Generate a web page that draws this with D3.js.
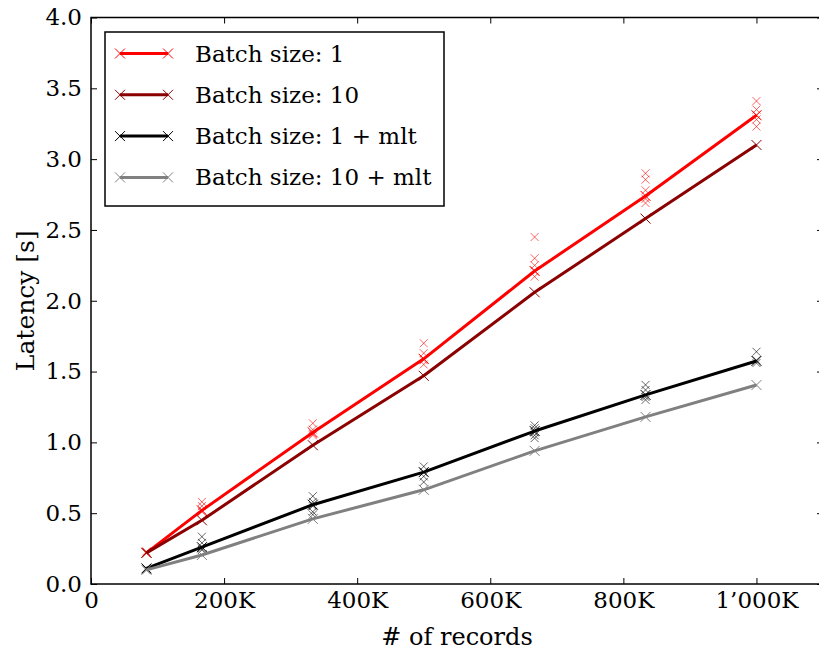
<!DOCTYPE html>
<html lang="en">
<head>
<meta charset="utf-8">
<title>Latency vs records</title>
<script src="https://d3js.org/d3.v7.min.js"></script>
<style>
  body { margin: 0; background: #fff; }
  svg text { font-family: "DejaVu Serif", serif; fill: #000; }
</style>
</head>
<body>
<div id="chart"></div>
<script>
// data
const records = [83333, 166667, 333333, 500000, 666667, 833333, 1000000];

const batch1 = [0.22, 0.52, 1.07, 1.59, 2.21, 2.74, 3.31];
const batch10 = [0.22, 0.45, 0.98, 1.47, 2.06, 2.58, 3.10];
const batch1Mlt = [0.11, 0.26, 0.56, 0.79, 1.08, 1.335, 1.575];
const batch10Mlt = [0.10, 0.205, 0.46, 0.665, 0.94, 1.18, 1.405];

// individual runs (scatter x's)
const batch1Runs = [
  [0.22, 0.23],
  [0.58, 0.55, 0.52, 0.51],
  [1.135, 1.09, 1.06, 1.05],
  [1.70, 1.63, 1.58, 1.55],
  [2.45, 2.30, 2.25, 2.21, 2.17],
  [2.90, 2.855, 2.78, 2.72, 2.69],
  [3.41, 3.35, 3.31, 3.28, 3.23]
];
const batch1MltRuns = [
  [0.11, 0.10],
  [0.334, 0.29, 0.25, 0.24],
  [0.62, 0.58, 0.55, 0.51, 0.49],
  [0.83, 0.79, 0.76, 0.72],
  [1.12, 1.10, 1.07, 1.05, 1.03],
  [1.406, 1.37, 1.32, 1.30],
  [1.64, 1.58, 1.56]
];

const xTicks = [0, 200000, 400000, 600000, 800000, 1000000];
const xTickLabels = ["0", "200K", "400K", "600K", "800K", "1\u2019000K"];
const yTicks = [0, 0.5, 1.0, 1.5, 2.0, 2.5, 3.0, 3.5, 4.0];

const series = [
  { name: "Batch size: 1", values: batch1, runs: batch1Runs, color: "#ff0000" },
  { name: "Batch size: 10", values: batch10, runs: null, color: "#8b0000" },
  { name: "Batch size: 1 + mlt", values: batch1Mlt, runs: batch1MltRuns, color: "#000000" },
  { name: "Batch size: 10 + mlt", values: batch10Mlt, runs: null, color: "#808080" }
];

const width = 819, height = 653;
const margin = { left: 91, top: 17.5, right: -4, bottom: 69 };
const plotW = width - margin.left - margin.right;
const plotH = height - margin.top - margin.bottom;

const svg = d3.select("#chart").append("svg")
  .attr("width", width)
  .attr("height", height);

const x = d3.scaleLinear().domain([0, 1100000]).range([0, plotW]);
const y = d3.scaleLinear().domain([0, 4]).range([plotH, 0]);

const g = svg.append("g").attr("transform", `translate(${margin.left},${margin.top})`);

// x marker path
function cross(s) {
  return `M${-s},${-s}L${s},${s}M${-s},${s}L${s},${-s}`;
}

// axes (ticks inside, on all four sides)
const fmtX = d => xTickLabels[xTicks.indexOf(d)];
g.append("g")
  .attr("transform", `translate(0,${plotH})`)
  .call(d3.axisBottom(x).tickValues(xTicks).tickFormat(fmtX).tickSizeInner(-6).tickSizeOuter(0).tickPadding(8))
  .call(a => a.select(".domain").remove());
g.append("g")
  .call(d3.axisTop(x).tickValues(xTicks).tickFormat("").tickSizeInner(-6).tickSizeOuter(0))
  .call(a => a.select(".domain").remove());
g.append("g")
  .call(d3.axisLeft(y).tickValues(yTicks).tickFormat(d3.format(".1f")).tickSizeInner(-6).tickSizeOuter(0).tickPadding(9))
  .call(a => a.select(".domain").remove());
g.append("g")
  .attr("transform", `translate(${plotW},0)`)
  .call(d3.axisRight(y).tickValues(yTicks).tickFormat("").tickSizeInner(-6).tickSizeOuter(0))
  .call(a => a.select(".domain").remove());

g.selectAll(".tick line").attr("stroke", "#000").attr("stroke-width", 1);
g.selectAll(".tick text").style("font-size", "23px");

// scatter of single runs
series.filter(s => s.runs).forEach(s => {
  const pts = [];
  s.runs.forEach((arr, i) => arr.forEach(v => pts.push([records[i], v])));
  g.append("g").selectAll("path")
    .data(pts)
    .join("path")
    .attr("transform", d => `translate(${x(d[0])},${y(d[1])})`)
    .attr("d", cross(4))
    .attr("fill", "none")
    .attr("stroke", s.color)
    .attr("stroke-opacity", 0.6)
    .attr("stroke-width", 1);
});

// mean lines with x markers
const line = d3.line().x((d, i) => x(records[i])).y(d => y(d));
series.forEach(s => {
  g.append("path")
    .datum(s.values)
    .attr("d", line)
    .attr("fill", "none")
    .attr("stroke", s.color)
    .attr("stroke-width", 3)
    .attr("stroke-linejoin", "round");
  g.append("g").selectAll("path")
    .data(s.values)
    .join("path")
    .attr("transform", (d, i) => `translate(${x(records[i])},${y(d)})`)
    .attr("d", cross(5))
    .attr("fill", "none")
    .attr("stroke", s.color)
    .attr("stroke-width", 1);
});

// frame
g.append("rect")
  .attr("width", plotW).attr("height", plotH)
  .attr("fill", "none").attr("stroke", "#000").attr("stroke-width", 1.5);

// legend
const leg = svg.append("g").attr("transform", "translate(105,32)");
leg.append("rect")
  .attr("width", 339).attr("height", 174)
  .attr("fill", "#fff").attr("stroke", "#000").attr("stroke-width", 1.5);
series.forEach((s, i) => {
  const ly = 21.5 + i * 41.3;
  leg.append("line")
    .attr("x1", 15).attr("x2", 63).attr("y1", ly).attr("y2", ly)
    .attr("stroke", s.color).attr("stroke-width", 3);
  [15, 63].forEach(mx => {
    leg.append("path")
      .attr("transform", `translate(${mx},${ly})`)
      .attr("d", cross(5))
      .attr("fill", "none").attr("stroke", s.color).attr("stroke-width", 1);
  });
  leg.append("text")
    .attr("x", 90).attr("y", ly)
    .attr("dy", "0.35em")
    .style("font-size", "23px")
    .text(s.name);
});

// axis titles
svg.append("text")
  .attr("x", margin.left + x(550000)).attr("y", 645)
  .attr("text-anchor", "middle")
  .style("font-size", "24px")
  .text("# of records");
svg.append("text")
  .attr("transform", `translate(34,${margin.top + plotH / 2}) rotate(-90)`)
  .attr("text-anchor", "middle")
  .style("font-size", "25px")
  .text("Latency [s]");
</script>
</body>
</html>
